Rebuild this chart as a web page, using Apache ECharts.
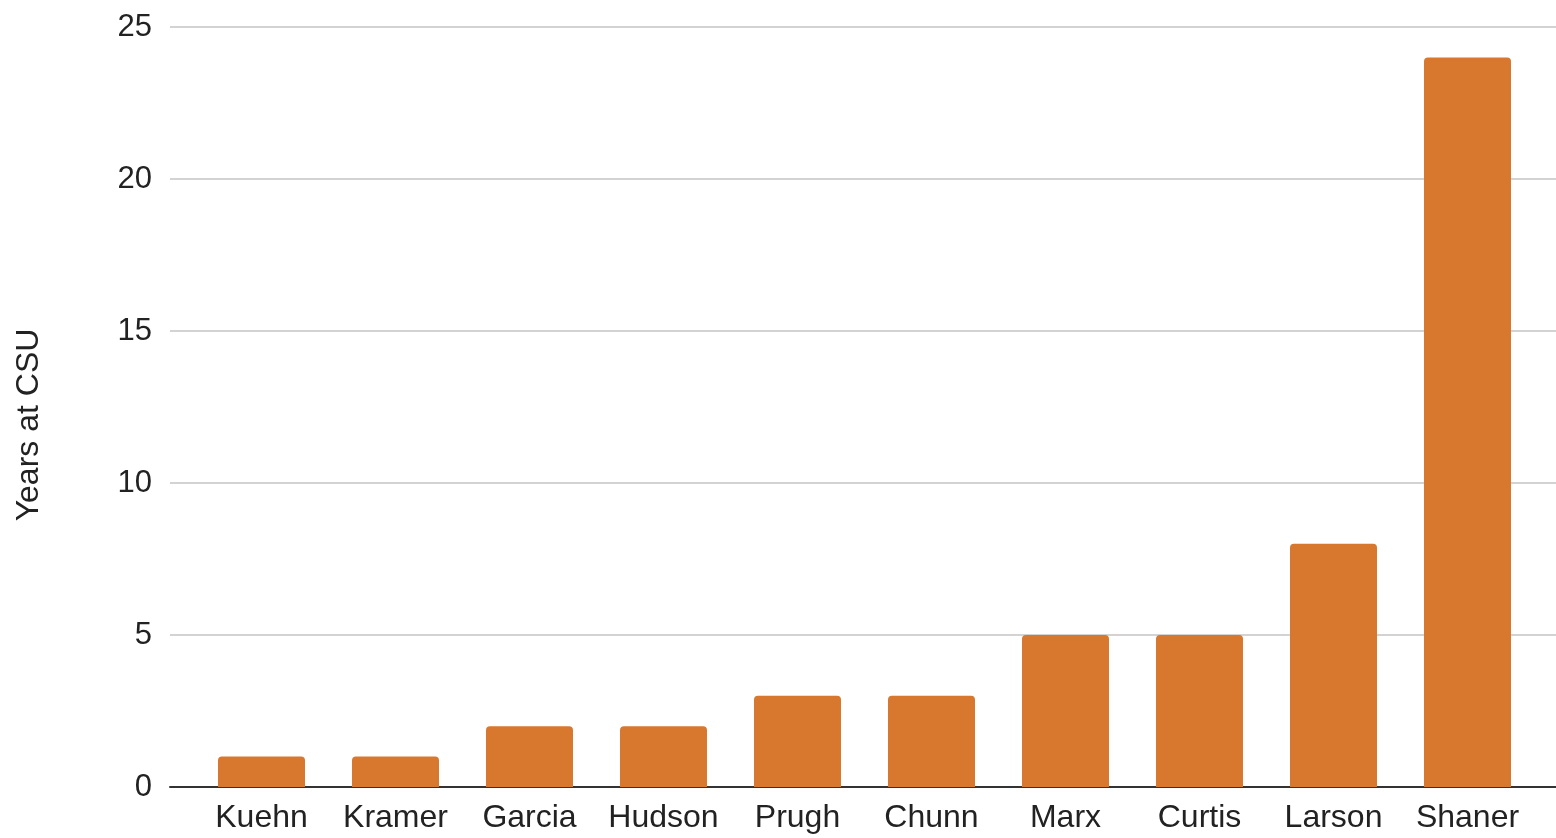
<!DOCTYPE html>
<html><head><meta charset="utf-8">
<script src="https://cdn.jsdelivr.net/npm/echarts@6/dist/echarts.min.js"></script>
<style>html,body{margin:0;padding:0;background:#fff}#c{width:1556px;height:838px}</style>
</head><body><div id="c"></div>
<script>
const categories = ['Kuehn','Kramer','Garcia','Hudson','Prugh','Chunn','Marx','Curtis','Larson','Shaner'];
const years = [1,1,2,2,3,3,5,5,8,24];
const yTicks = [0,5,10,15,20,25];
const font = '"Liberation Sans", Arial, sans-serif';
const chart = echarts.init(document.getElementById('c'));
chart.setOption({
  animation: false,
  grid: [
    {left:170, right:0, top:27, bottom:51},
    {left:194.5, right:21.5, top:27, bottom:51}
  ],
  xAxis: [
    {gridIndex:0, type:'category', data:categories, axisLine:{show:true, lineStyle:{color:'#333', width:2}}, axisTick:{show:false}, axisLabel:{show:false}, splitLine:{show:false}},
    {gridIndex:1, type:'category', data:categories, axisLine:{show:false}, axisTick:{show:false},
     axisLabel:{color:'#222', fontSize:32, fontFamily:font, margin:15, interval:0}}
  ],
  yAxis: [
    {gridIndex:0, type:'value', min:0, max:25, interval:5,
     axisLine:{show:false}, axisTick:{show:false},
     axisLabel:{color:'#222', fontSize:31, fontFamily:font, margin:18},
     splitLine:{lineStyle:{color:'#d3d3d3', width:2}},
     name:'Years at CSU', nameLocation:'middle', nameGap:125,
     nameTextStyle:{color:'#222', fontSize:32, fontFamily:font, padding:[0,0,0,-36]}},
    {gridIndex:1, type:'value', min:0, max:25, interval:5, show:false, splitLine:{show:false}}
  ],
  series: [{
    type:'bar', xAxisIndex:1, yAxisIndex:1, data:years, barWidth:87,
    itemStyle:{color:'#D7782E', borderRadius:[4,4,0,0]}
  }]
});
</script></body></html>
